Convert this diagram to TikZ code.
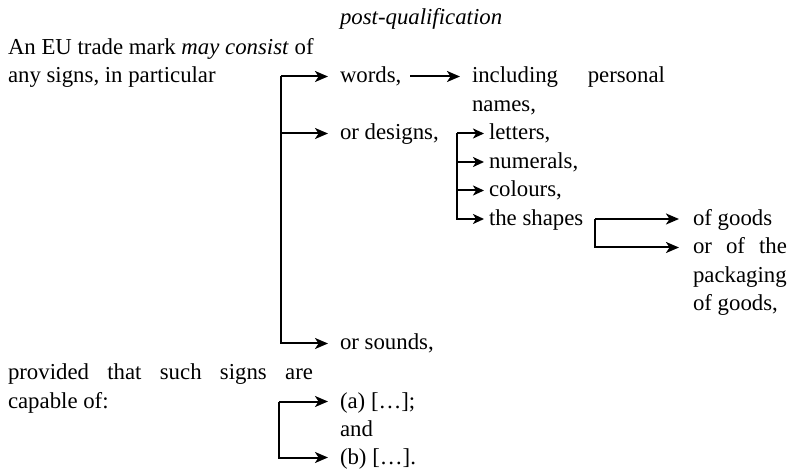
\documentclass[tikz,border=0pt]{standalone}
\usepackage{fontspec}
\setmainfont{Liberation Serif}
\usetikzlibrary{arrows.meta}
\begin{document}
\begin{tikzpicture}[x=1bp,y=-1bp,
  font=\fontsize{22.8bp}{28bp}\selectfont,
  txt/.style={anchor=base west, inner sep=0pt, outer sep=0pt},
  conn/.style={line width=2bp},
  arr/.style={conn, -{Stealth[length=13bp,width=11bp,inset=3.5bp]}},
  sarr/.style={conn, -{Stealth[length=11bp,width=10bp,inset=3bp]}}]
\useasboundingbox (0,0) rectangle (791,475);
% texts
\node[txt] (postq) at (340,25) {\textit{post-qualification}};
\node[txt] (l1) at (8,55) {An EU trade mark \textit{may consist} of};
\node[txt] (l2) at (8,83) {any signs, in particular};
\node[txt] (words) at (340,83) {words,};
\node[txt] (incl) at (472,83) {\makebox[193bp][s]{including personal}};
\node[txt] (names) at (472,111.5) {names,};
\node[txt] (designs) at (340,140) {or designs,};
\node[txt] (letters) at (489,140) {letters,};
\node[txt] (numerals) at (489,168.5) {numerals,};
\node[txt] (colours) at (489,197) {colours,};
\node[txt] (shapes) at (489,225.5) {the shapes};
\node[txt] (goods) at (693,225.5) {of goods};
\node[txt] (orofthe) at (693,254) {\makebox[94bp][s]{or of the}};
\node[txt] (packaging) at (693,282.5) {packaging};
\node[txt] (goods2) at (693,311) {of goods,};
\node[txt] (sounds) at (340,350) {or sounds,};
\node[txt] (prov) at (8,380) {\makebox[305bp][s]{provided that such signs are}};
\node[txt] (capable) at (8,408) {capable of:};
\node[txt] (a) at (340,408) {(a) […];};
\node[txt] (and) at (340,436) {and};
\node[txt] (b) at (340,464) {(b) […].};
% arrow tips
\coordinate (wordsT) at ([shift={(-12,-6.5)}]words.base west);
\coordinate (designsT) at ([shift={(-12,-6.5)}]designs.base west);
\coordinate (soundsT) at ([shift={(-12,-6.5)}]sounds.base west);
\coordinate (inclT) at ([shift={(-12,-6.5)}]incl.base west);
\coordinate (wordsE) at ([shift={(9,-6.5)}]words.base east);
\coordinate (lettersT) at ([shift={(-5,-6.5)}]letters.base west);
\coordinate (numeralsT) at ([shift={(-5,-6.5)}]numerals.base west);
\coordinate (coloursT) at ([shift={(-5,-6.5)}]colours.base west);
\coordinate (shapesT) at ([shift={(-5,-6.5)}]shapes.base west);
\coordinate (shapesE) at ([shift={(12,-6.5)}]shapes.base east);
\coordinate (goodsT) at ([shift={(-14,-6.5)}]goods.base west);
\coordinate (orofT) at ([shift={(-14,-6.5)}]orofthe.base west);
\coordinate (aT) at ([shift={(-12,-6.5)}]a.base west);
\coordinate (bT) at ([shift={(-12,-6.5)}]b.base west);
% trunks
\coordinate (B1) at (281,0);
\coordinate (B2) at (457,0);
\coordinate (B4) at (279,0);
% main bracket
\draw[arr] (B1 |- wordsT) -- (wordsT);
\draw[arr] (B1 |- designsT) -- (designsT);
\draw[arr] (B1 |- wordsT) -- (B1 |- soundsT) -- (soundsT);
% words -> including
\draw[arr] (wordsE) -- (inclT);
% designs bracket
\draw[sarr] (B2 |- lettersT) -- (lettersT);
\draw[sarr] (B2 |- numeralsT) -- (numeralsT);
\draw[sarr] (B2 |- coloursT) -- (coloursT);
\draw[sarr] (B2 |- lettersT) -- (B2 |- shapesT) -- (shapesT);
% shapes bracket
\draw[arr] (shapesE) -- (goodsT);
\draw[arr] (shapesE) -- (shapesE |- orofT) -- (orofT);
% bottom bracket
\draw[arr] (B4 |- aT) -- (aT);
\draw[arr] (B4 |- aT) -- (B4 |- bT) -- (bT);
\end{tikzpicture}
\end{document}
